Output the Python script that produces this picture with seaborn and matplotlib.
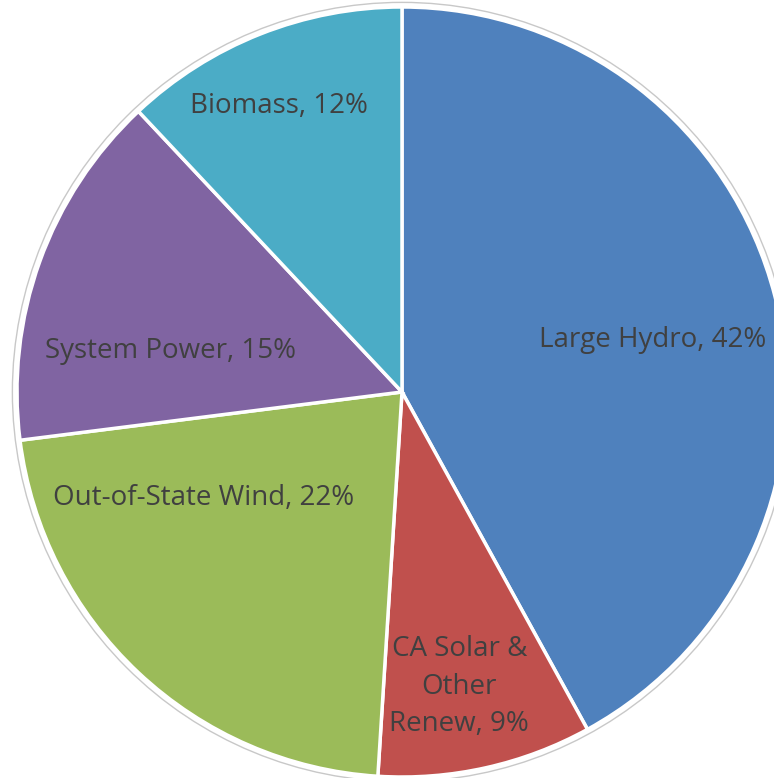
import numpy as np
import matplotlib
matplotlib.use("Agg")
import matplotlib.pyplot as plt
import seaborn as sns

# Power content by resource type
sources = ["Large Hydro", "CA Solar &\nOther\nRenew", "Out-of-State Wind", "System Power", "Biomass"]
shares = [42, 9, 22, 15, 12]
colors = ["#4F81BD", "#C0504D", "#9BBB59", "#8064A2", "#4BACC6"]

# Label placement inside each wedge: (radius fraction, angle in degrees)
label_polar = [(0.665, 11.7), (0.78, -79.0), (0.585, -152.0), (0.61, 169.9), (0.81, 113.3)]

sns.set_theme(style="white")
plt.rcParams["font.family"] = ["Open Sans", "DejaVu Sans"]

fig = plt.figure(figsize=(7.74, 7.78), dpi=100)
ax = fig.add_axes([0, 0, 1, 1])

R = 1.0
wedges, _ = ax.pie(
    shares,
    colors=colors,
    startangle=90,
    counterclock=False,
    radius=R,
    wedgeprops=dict(edgecolor="white", linewidth=2.5),
)

# thin grey rim around the pie
rim = plt.Circle((0, 0), R + 0.012, fill=False, edgecolor="#c8c8c8", linewidth=1.0, zorder=0)
ax.add_patch(rim)

for name, val, (r, ang) in zip(sources, shares, label_polar):
    a = np.deg2rad(ang)
    ax.text(r * R * np.cos(a), r * R * np.sin(a), f"{name}, {val}%",
            ha="center", va="center", fontsize=20, color="#404040",
            linespacing=1.45)

px = 385.0
cx, cy = 402, 392
ax.set_xlim(-cx / px, (774 - cx) / px)
ax.set_ylim((cy - 778) / px, cy / px)
ax.set_aspect("equal")
ax.axis("off")

fig.savefig("out.png", dpi=100, facecolor="white")
